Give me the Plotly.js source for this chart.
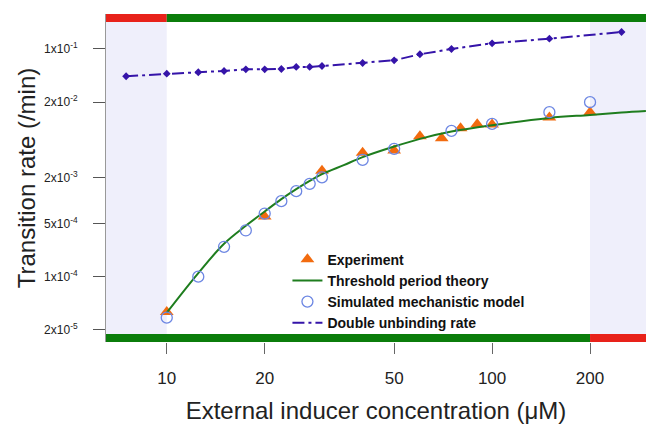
<!DOCTYPE html>
<html>
<head>
<meta charset="utf-8">
<script src="https://cdn.plot.ly/plotly-3.0.1.min.js"></script>
<style>html,body{margin:0;padding:0;background:#fff;}#chart{width:646px;height:428px;}</style>
</head>
<body>
<div id="chart"></div>
<script>
// Experiment (orange triangles)
var expX = [10, 20, 30, 40, 50, 60, 70, 80, 90, 100, 150, 200];
var expY = [3.42e-5, 6.2e-4, 2.48e-3, 4.3e-3, 4.61e-3, 7.09e-3, 6.68e-3, 9.04e-3, 1.023e-2, 1.014e-2, 1.254e-2, 1.468e-2];

// Threshold period theory (green curve, read at sample points)
var theoryX = [10, 12.5, 15, 17.5, 20, 22.5, 25, 27.5, 30, 35, 40, 50, 60, 75, 100, 150, 200, 250, 297];
var theoryY = [3.35e-5, 1.115e-4, 2.71e-4, 4.68e-4, 7.22e-4, 1.051e-3, 1.423e-3, 1.83e-3, 2.243e-3, 2.95e-3, 3.753e-3, 5.18e-3, 6.54e-3, 8.155e-3, 9.9e-3, 1.235e-2, 1.353e-2, 1.459e-2, 1.527e-2];

// Simulated mechanistic model (open blue circles)
var simX = [10, 12.5, 15, 17.5, 20, 22.5, 25, 27.5, 30, 40, 50, 75, 100, 150, 200];
var simY = [2.88e-5, 1.0e-4, 2.475e-4, 4.06e-4, 6.79e-4, 9.89e-4, 1.339e-3, 1.671e-3, 2.034e-3, 3.457e-3, 4.83e-3, 8.33e-3, 1.03e-2, 1.468e-2, 1.994e-2];

// Double unbinding rate (dark blue dash-dot)
var dubX = [7.5, 10, 12.5, 15, 17.5, 20, 22.5, 25, 27.5, 30, 40, 50, 60, 75, 100, 150, 250];
var dubY = [0.0437, 0.0473, 0.0494, 0.0513, 0.054, 0.054, 0.0545, 0.058, 0.058, 0.0597, 0.0654, 0.071, 0.0852, 0.100, 0.1189, 0.1367, 0.1675];

// Axis ticks
var xTickVals = [10, 20, 50, 100, 200];
var xTickText = ["10", "20", "50", "100", "200"];
var yTickVals = [2e-5, 1e-4, 5e-4, 2e-3, 2e-2, 1e-1];
var yTickText = ["2x10<sup>-5</sup>", "1x10<sup>-4</sup>", "5x10<sup>-4</sup>", "2x10<sup>-3</sup>", "2x10<sup>-2</sup>", "1x10<sup>-1</sup>"];

// Regime boundaries
var lowBound = 10;
var highBound = 200;
var xMin = 6.505, xMax = 297.2;
var yMin = 1.377e-5, yMax = 0.2891;

var FONT = "Liberation Sans, Arial, Helvetica, sans-serif";
var DUB_COLOR = "#3514a9";

var traces = [
  {x: expX, y: expY, name: "Experiment", type: "scatter", mode: "markers",
   marker: {symbol: "triangle-up", size: 12, color: "#f26b0f", line: {width: 0}}},
  {x: theoryX, y: theoryY, name: "Threshold period theory", type: "scatter", mode: "lines",
   line: {color: "#1e7d1e", width: 2, shape: "spline", smoothing: 1}},
  {x: simX, y: simY, name: "Simulated mechanistic model", type: "scatter", mode: "markers",
   marker: {symbol: "circle-open", size: 11, color: "#6d87e3", line: {width: 1.3, color: "#6d87e3"}}},
  {x: dubX, y: dubY, name: "Double unbinding rate", type: "scatter", mode: "lines",
   line: {color: DUB_COLOR, width: 2, dash: "12px,4px,3px,4px"}},
  {x: dubX, y: dubY, name: "Double unbinding rate", type: "scatter", mode: "markers", showlegend: false,
   marker: {symbol: "diamond", size: 6, color: DUB_COLOR}}
];

var barTop = 0.9756, barBot = 0.0244;
var shapes = [
  {type: "rect", xref: "x", yref: "paper", x0: xMin, x1: lowBound, y0: barBot, y1: barTop, fillcolor: "#efeffb", line: {width: 0}, layer: "below"},
  {type: "rect", xref: "x", yref: "paper", x0: highBound, x1: xMax, y0: barBot, y1: barTop, fillcolor: "#efeffb", line: {width: 0}, layer: "below"},
  {type: "rect", xref: "x", yref: "paper", x0: xMin, x1: lowBound, y0: barTop, y1: 1, fillcolor: "#e8221a", line: {width: 0}, layer: "above"},
  {type: "rect", xref: "x", yref: "paper", x0: lowBound, x1: xMax, y0: barTop, y1: 1, fillcolor: "#0b7d0b", line: {width: 0}, layer: "above"},
  {type: "rect", xref: "x", yref: "paper", x0: xMin, x1: highBound, y0: 0, y1: barBot, fillcolor: "#0b7d0b", line: {width: 0}, layer: "above"},
  {type: "rect", xref: "x", yref: "paper", x0: highBound, x1: xMax, y0: 0, y1: barBot, fillcolor: "#e8221a", line: {width: 0}, layer: "above"}
];

var layout = {
  width: 646, height: 428,
  margin: {l: 106, r: 0, t: 14, b: 86},
  paper_bgcolor: "#fff", plot_bgcolor: "#fff",
  font: {family: FONT, color: "#222"},
  showlegend: true,
  legend: {x: 0.336, y: 0.30, xanchor: "left", yanchor: "top", bgcolor: "rgba(0,0,0,0)",
           font: {family: FONT, size: 14, color: "#111", weight: "bold"}, itemwidth: 30, tracegroupgap: 0},
  xaxis: {type: "log", range: [Math.log10(xMin), Math.log10(xMax)], tickvals: xTickVals, ticktext: xTickText,
          ticks: "outside", ticklen: 11, tickcolor: "#666", tickwidth: 1, showgrid: false, zeroline: false, showline: false,
          tickfont: {size: 17, color: "#222"}, ticklabelstandoff: 10,
          title: {text: "External inducer concentration (\u03BCM)", font: {size: 24, color: "#222"}, standoff: 14}},
  yaxis: {type: "log", range: [Math.log10(yMin), Math.log10(yMax)], tickvals: yTickVals, ticktext: yTickText,
          ticks: "outside", ticklen: 12, tickcolor: "#555", tickwidth: 1, showgrid: false, zeroline: false,
          showline: true, linecolor: "#999", linewidth: 1, mirror: false,
          tickfont: {size: 12, color: "#222"}, ticklabelstandoff: 13,
          title: {text: "Transition rate (/min)", font: {size: 24, color: "#222"}, standoff: 1}},
  shapes: shapes
};

Plotly.newPlot("chart", traces, layout, {staticPlot: true, displayModeBar: false});
</script>
</body>
</html>
